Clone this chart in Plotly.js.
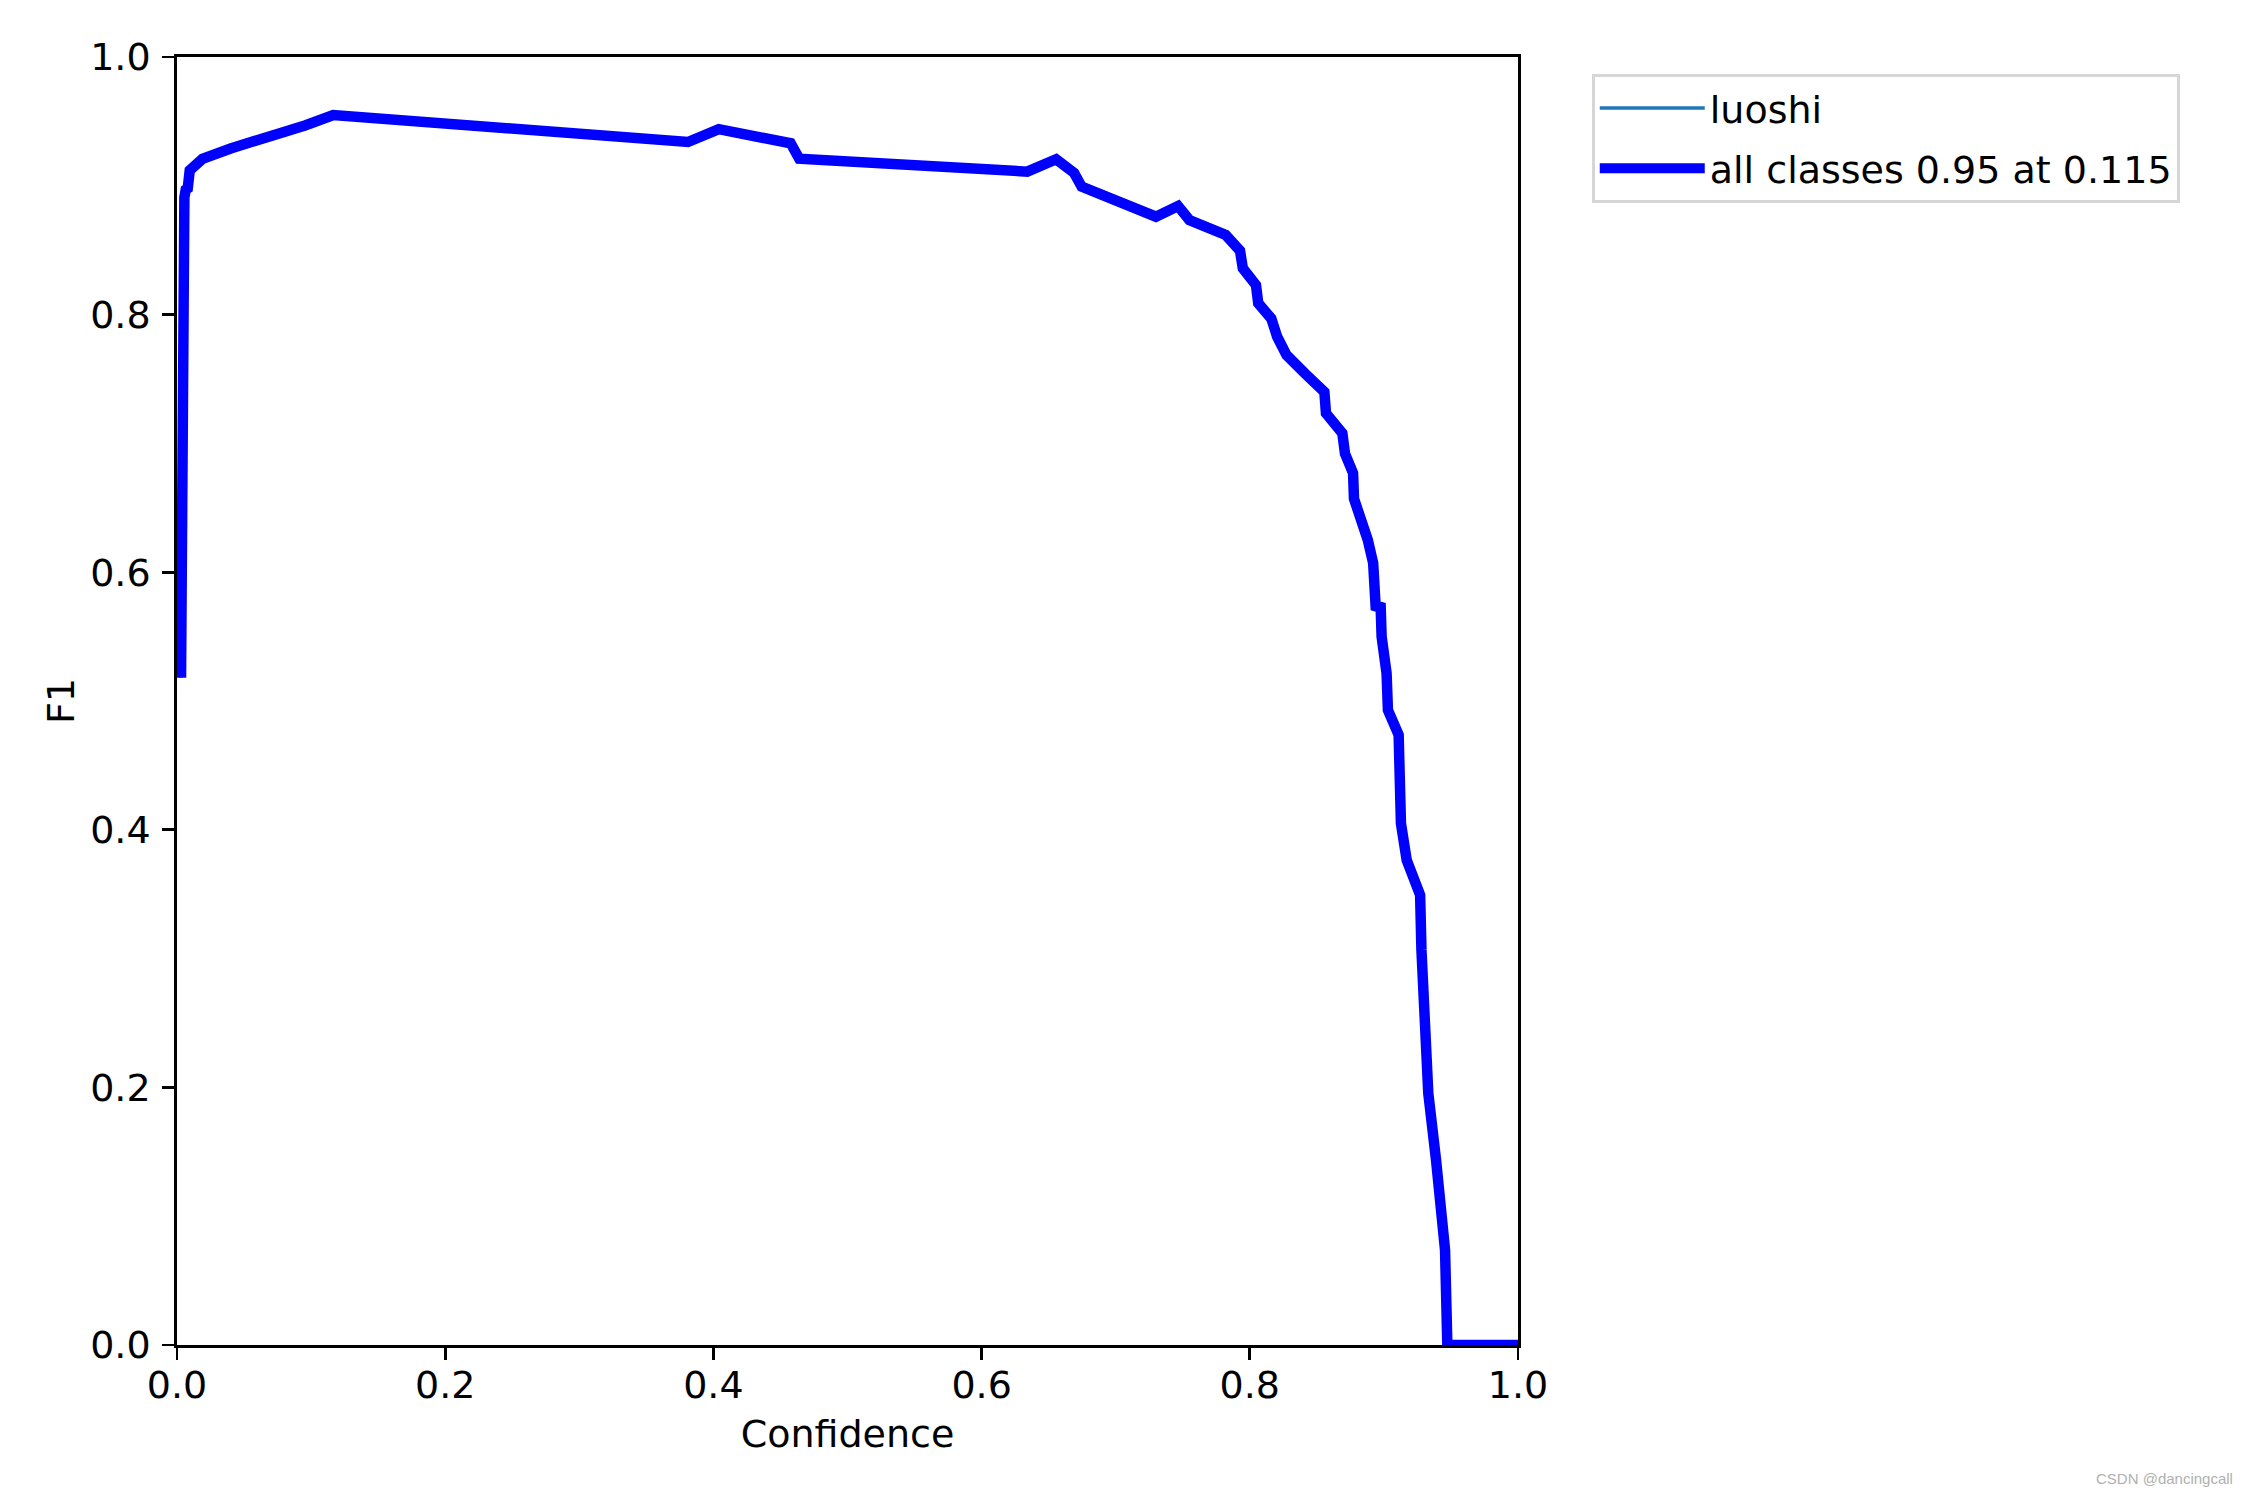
<!DOCTYPE html>
<html>
<head>
<meta charset="utf-8">
<script src="https://cdn.plot.ly/plotly-3.0.1.min.js"></script>
<style>html,body{margin:0;padding:0;background:#fff;}#chart{width:2250px;height:1500px;}</style>
</head>
<body>
<div id="chart"></div>
<script>
// Confidence threshold values (x)
var confidence = [0.003, 0.0035, 0.004, 0.0055, 0.0065, 0.008, 0.0095, 0.0115, 0.019, 0.040, 0.070, 0.096, 0.1165,
  0.381, 0.404, 0.4576, 0.464, 0.634, 0.6556, 0.669, 0.6746, 0.6984, 0.730, 0.7465, 0.755, 0.782,
  0.7927, 0.7948, 0.8046, 0.8063, 0.816, 0.8204, 0.8274, 0.841, 0.8556, 0.8568, 0.869, 0.871, 0.877,
  0.8777, 0.8834, 0.888, 0.892, 0.894, 0.8975, 0.8983, 0.902, 0.903, 0.911, 0.9127, 0.917, 0.927,
  0.928, 0.9306, 0.9331, 0.9389, 0.9418, 0.9456, 0.9473, 1.0];
// F1 values for class "luoshi"
var f1Luoshi = [0.518, 0.78, 0.884, 0.891, 0.897, 0.898, 0.912, 0.914, 0.921, 0.929, 0.938, 0.947, 0.955,
  0.934, 0.944, 0.933, 0.921, 0.911, 0.9206, 0.910, 0.8993, 0.889, 0.876, 0.8843, 0.8734, 0.8618,
  0.8496, 0.836, 0.823, 0.8088, 0.797, 0.7828, 0.7686, 0.7544, 0.740, 0.7234, 0.708, 0.692, 0.677,
  0.657, 0.6418, 0.625, 0.607, 0.5707, 0.5759, 0.550, 0.5215, 0.493, 0.4736, 0.405, 0.3765, 0.3494,
  0.3067, 0.2549, 0.1954, 0.1436, 0.1126, 0.0738, 0.0, 0.0];
// all classes (single class => same curve)
var f1All = f1Luoshi.slice();
var seriesNames = ['luoshi', 'all classes 0.95 at 0.115'];
var tickVals = [0, 0.2, 0.4, 0.6, 0.8, 1.0];
var tickText = ['0.0', '0.2', '0.4', '0.6', '0.8', '1.0'];

var font = 'DejaVu Sans, Verdana, sans-serif';
var FS = 38;
var traces = [
  {x: confidence, y: f1Luoshi, name: seriesNames[0], legendgroup: 'g1', type: 'scatter', mode: 'lines',
   line: {color: '#1f77b4', width: 3.5}},
  {x: confidence, y: f1All, name: seriesNames[1], legendgroup: 'g2', type: 'scatter', mode: 'lines',
   line: {color: '#0000ff', width: 10.5}}
];
var axisCommon = {
  range: [0, 1], showgrid: false, zeroline: false, showline: true, mirror: true,
  linecolor: '#000', linewidth: 2.8, ticks: 'outside', ticklen: 12, tickwidth: 2.8, tickcolor: '#000',
  tickvals: tickVals, ticktext: tickText, tickfont: {family: font, size: FS, color: '#000'},
  fixedrange: true
};
var layout = {
  width: 2250, height: 1500,
  paper_bgcolor: '#fff', plot_bgcolor: '#fff',
  margin: {l: 177, r: 732, t: 57, b: 155, autoexpand: false},
  font: {family: font, size: FS, color: '#000'},
  xaxis: Object.assign({}, axisCommon, {
    title: {text: 'Confidence', font: {family: font, size: FS, color: '#000'}, standoff: 14},
    ticklabelstandoff: -7
  }),
  yaxis: Object.assign({}, axisCommon, {
    title: {text: 'F1', font: {family: font, size: FS, color: '#000'}, standoff: 4},
    ticklabelstandoff: 4
  }),
  showlegend: true,
  legend: {
    x: 1.055, y: 0.987, xanchor: 'left', yanchor: 'top',
    bgcolor: 'rgba(255,255,255,0.8)', bordercolor: '#d6d6d6', borderwidth: 3,
    font: {family: font, size: FS, color: '#000'},
    itemwidth: 105, tracegroupgap: 8, traceorder: 'grouped'
  },
  annotations: [{
    text: 'CSDN @dancingcall', xref: 'paper', yref: 'paper', x: 1, y: 0,
    xanchor: 'right', yanchor: 'middle', xshift: 732 - 15, yshift: -133,
    showarrow: false, font: {family: 'Liberation Sans, Arial, sans-serif', size: 15, color: '#b0b0b0'}
  }]
};
Plotly.newPlot('chart', traces, layout, {displayModeBar: false, staticPlot: true});
</script>
</body>
</html>
